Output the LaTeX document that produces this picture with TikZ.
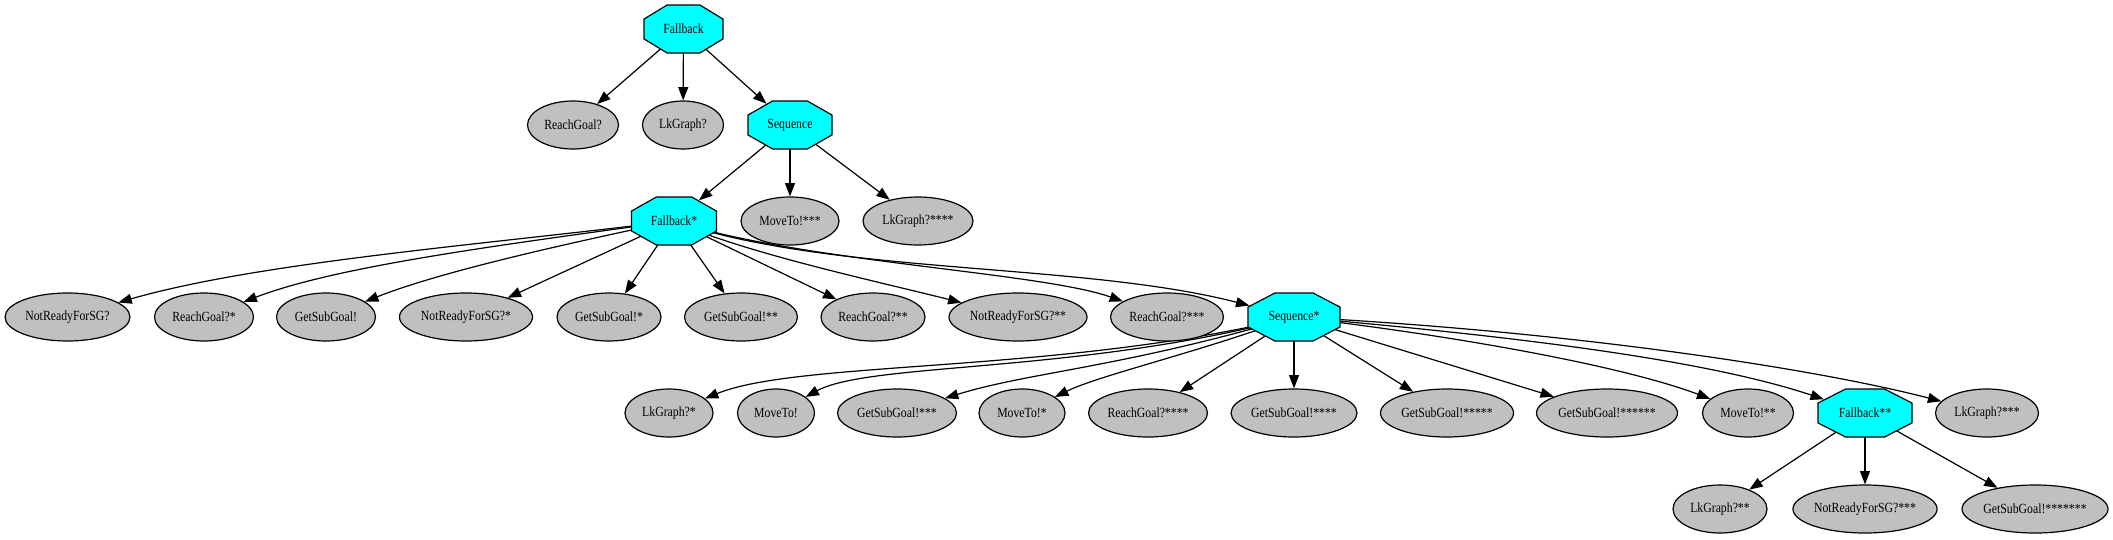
\documentclass[tikz,border=0pt]{standalone}
\usepackage{fontspec}
\setmainfont{Liberation Serif}[FakeStretch=0.84]
\usepackage{graphicx}
\usetikzlibrary{shapes.geometric,arrows.meta}
\definecolor{leafgray}{HTML}{C0C0C0}
\definecolor{octcyan}{HTML}{00FFFF}
\pgfdeclarelayer{edgelayer}
\pgfsetlayers{edgelayer,main}
\begin{document}
\begin{tikzpicture}[x=0.75pt,y=-0.75pt,
  every node/.style={font=\fontsize{10.5}{12}\selectfont},
  leaf/.style={ellipse, draw=black, line width=0.9pt, fill=leafgray, inner sep=0pt, minimum height=36pt, minimum width=#1*0.75pt},
  oct/.style={regular polygon, regular polygon sides=8, draw=black, line width=0.9pt, fill=octcyan, inner sep=0pt, minimum size=38.96pt, xscale=#1},
  edge/.style={draw=black, line width=0.9pt, -{Triangle[length=10pt,width=7.5pt]}}
]
\begin{pgfonlayer}{edgelayer}
\fill[white] (0,0) rectangle (2113,539);
\end{pgfonlayer}
\useasboundingbox (0,0) rectangle (2113,539);
% rank 0
\node[oct=1.646] (fb) at (683.5,29) {\scalebox{0.6076}[1]{Fallback}};
% rank 1
\node[leaf=91] (rg) at (573,125) {ReachGoal?};
\node[leaf=81] (lk) at (683,125) {LkGraph?};
\node[oct=1.75] (seq) at (790,125) {\scalebox{0.5714}[1]{Sequence}};
% rank 2
\node[oct=1.771] (fbs) at (674,221) {\scalebox{0.5647}[1]{Fallback*}};
\node[leaf=98] (mv3) at (790,221) {MoveTo!***};
\node[leaf=110] (lk4) at (918,221) {LkGraph?****};
% rank 3
\node[leaf=125] (nr) at (67.5,317) {NotReadyForSG?};
\node[leaf=99] (rg1) at (204,317) {ReachGoal?*};
\node[leaf=99] (gs) at (326,317) {GetSubGoal!};
\node[leaf=133] (nr1) at (466,317) {NotReadyForSG?*};
\node[leaf=104] (gs1) at (609,317) {GetSubGoal!*};
\node[leaf=113] (gs2) at (741,317) {GetSubGoal!**};
\node[leaf=104] (rg2) at (873,317) {ReachGoal?**};
\node[leaf=138] (nr2) at (1018,317) {NotReadyForSG?**};
\node[leaf=113] (rg3) at (1167,317) {ReachGoal?***};
\node[oct=1.917] (seqs) at (1294,317) {\scalebox{0.5217}[1]{Sequence*}};
% rank 4
\node[leaf=88] (lk1) at (669,413) {LkGraph?*};
\node[leaf=77] (mv) at (776,413) {MoveTo!};
\node[leaf=119] (gs3) at (897,413) {GetSubGoal!***};
\node[leaf=86] (mv1) at (1022,413) {MoveTo!*};
\node[leaf=119] (rg4) at (1148,413) {ReachGoal?****};
\node[leaf=126] (gs4) at (1294,413) {GetSubGoal!****};
\node[leaf=133] (gs5) at (1447,413) {GetSubGoal!*****};
\node[leaf=141] (gs6) at (1607,413) {GetSubGoal!******};
\node[leaf=91] (mv2) at (1748,413) {MoveTo!**};
\node[oct=1.958] (fbss) at (1865,413) {\scalebox{0.5107}[1]{Fallback**}};
\node[leaf=103] (lk3) at (1987,413) {LkGraph?***};
% rank 5
\node[leaf=94] (lk2) at (1720,509) {LkGraph?**};
\node[leaf=144] (nr3) at (1865,509) {NotReadyForSG?***};
\node[leaf=146] (gs7) at (2035,509) {GetSubGoal!*******};
\begin{pgfonlayer}{edgelayer}
\draw[edge] (fb.center) -- (rg);
\draw[edge] (fb.center) -- (lk);
\draw[edge] (fb.center) -- (seq);
\draw[edge] (seq.center) -- (fbs);
\draw[edge] (seq.center) -- (mv3);
\draw[edge] (seq.center) -- (lk4);
\draw[edge] (fbs.center) .. controls (480,245) and (260,262) .. (nr);
\draw[edge] (fbs.center) .. controls (510,244) and (340,265) .. (rg1);
\draw[edge] (fbs.center) .. controls (560,245) and (440,272) .. (gs);
\draw[edge] (fbs.center) -- (nr1);
\draw[edge] (fbs.center) -- (gs1);
\draw[edge] (fbs.center) -- (gs2);
\draw[edge] (fbs.center) -- (rg2);
\draw[edge] (fbs.center) .. controls (740,252) and (880,282) .. (nr2);
\draw[edge] (fbs.center) .. controls (800,262) and (1040,272) .. (rg3);
\draw[edge] (fbs.center) .. controls (830,275) and (1080,262) .. (seqs);
\draw[edge] (seqs.center) .. controls (1060,374) and (800,360) .. (lk1);
\draw[edge] (seqs.center) .. controls (1080,374) and (870,362) .. (mv);
\draw[edge] (seqs.center) .. controls (1120,368) and (1030,372) .. (gs3);
\draw[edge] (seqs.center) .. controls (1200,352) and (1100,375) .. (mv1);
\draw[edge] (seqs.center) -- (rg4);
\draw[edge] (seqs.center) -- (gs4);
\draw[edge] (seqs.center) -- (gs5);
\draw[edge] (seqs.center) -- (gs6);
\draw[edge] (seqs.center) .. controls (1450,335) and (1620,365) .. (mv2);
\draw[edge] (seqs.center) .. controls (1500,335) and (1700,358) .. (fbss);
\draw[edge] (seqs.center) .. controls (1550,330) and (1800,365) .. (lk3);
\draw[edge] (fbss.center) -- (lk2);
\draw[edge] (fbss.center) -- (nr3);
\draw[edge] (fbss.center) -- (gs7);
\end{pgfonlayer}
\end{tikzpicture}
\end{document}
